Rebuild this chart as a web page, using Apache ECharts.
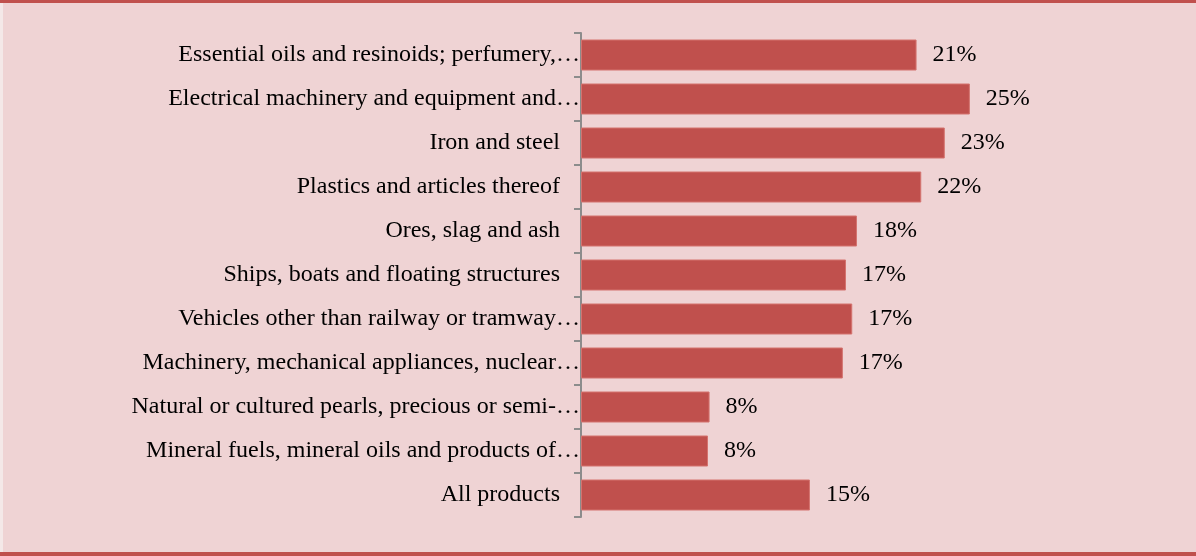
<!DOCTYPE html>
<html>
<head>
<meta charset="utf-8">
<script src="https://cdn.jsdelivr.net/npm/echarts@6/dist/echarts.min.js"></script>
<style>
  html, body { margin: 0; padding: 0; width: 1196px; height: 556px; overflow: hidden; background: #EFD3D4; }
  #chart { position: absolute; left: 0; top: 0; width: 1196px; height: 556px; }
  .bar-top { position: absolute; left: 0; top: 0; width: 1196px; height: 3px; background: #C0504D; }
  .bar-bottom { position: absolute; left: 0; top: 552px; width: 1196px; height: 4px; background: #C0504D; }
  .strip-left { position: absolute; left: 0; top: 3px; width: 3px; height: 549px; background: #F4E8E8; }
</style>
</head>
<body>
<div id="chart"></div>
<div class="bar-top"></div>
<div class="bar-bottom"></div>
<div class="strip-left"></div>
<script>
// Category labels (as displayed, top to bottom)
const categories = [
  "Essential oils and resinoids; perfumery,\u2026",
  "Electrical machinery and equipment and\u2026",
  "Iron and steel",
  "Plastics and articles thereof",
  "Ores, slag and ash",
  "Ships, boats and floating structures",
  "Vehicles other than railway or tramway\u2026",
  "Machinery, mechanical appliances, nuclear\u2026",
  "Natural or cultured pearls, precious or semi-\u2026",
  "Mineral fuels, mineral oils and products of\u2026",
  "All products"
];
// Share values in percent
const shares = [21.4, 24.8, 23.2, 21.7, 17.6, 16.9, 17.3, 16.7, 8.2, 8.1, 14.6];
// Value axis range
const axisMin = 0;
const axisMax = 30;

const chart = echarts.init(document.getElementById('chart'), null, { renderer: 'canvas' });
const serif = '"Liberation Serif", "Times New Roman", serif';
chart.setOption({
  backgroundColor: 'transparent',
  animation: false,
  grid: { left: 581, top: 33, right: 144.6, height: 484, containLabel: false },
  xAxis: {
    type: 'value', min: axisMin, max: axisMax,
    show: false, splitLine: { show: false }
  },
  yAxis: {
    type: 'category', inverse: true, data: categories,
    axisLine: { show: true, lineStyle: { color: '#8C8C8C', width: 2 } },
    axisTick: { show: true, length: 7, lineStyle: { color: '#8C8C8C', width: 2 } },
    axisLabel: {
      margin: 1,
      color: '#000',
      fontFamily: serif,
      fontSize: 24,
      formatter: function (v) {
        return v.endsWith('\u2026') ? '{t|' + v + '}' : '{p|' + v + '}';
      },
      rich: {
        t: { fontFamily: serif, fontSize: 24, color: '#000' },
        p: { fontFamily: serif, fontSize: 24, color: '#000', padding: [0, 20, 0, 0] }
      }
    },
    splitLine: { show: false }
  },
  series: [{
    type: 'bar',
    data: shares,
    barWidth: 31,
    itemStyle: { color: '#C0504D', borderColor: '#D4736F', borderWidth: 1 },
    label: {
      show: true, position: 'right', distance: 16,
      color: '#000', fontFamily: serif, fontSize: 24,
      formatter: function (p) { return Math.round(p.value) + '%'; }
    }
  }]
});
</script>
</body>
</html>
